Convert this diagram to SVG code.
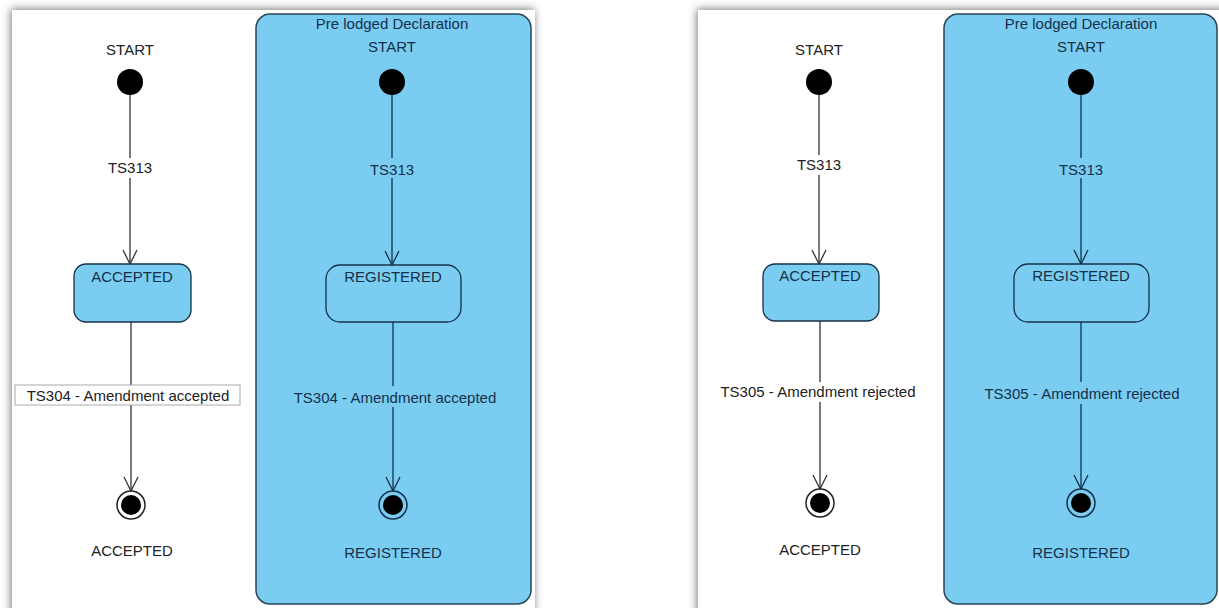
<svg xmlns="http://www.w3.org/2000/svg" width="1219" height="608" viewBox="0 0 1219 608">
<defs>
<filter id="sh" x="-5%" y="-5%" width="110%" height="110%">
<feDropShadow dx="-1" dy="-1" stdDeviation="4" flood-color="#666" flood-opacity="0.9"/>
</filter>
<marker id="ad" viewBox="0 0 16 16" refX="8" refY="15" markerWidth="16" markerHeight="16" markerUnits="userSpaceOnUse">
<path d="M1,1 L8,15 L15,1" fill="none" stroke="#333" stroke-width="1.3"/>
</marker>
<marker id="an" viewBox="0 0 16 16" refX="8" refY="15" markerWidth="16" markerHeight="16" markerUnits="userSpaceOnUse">
<path d="M1,1 L8,15 L15,1" fill="none" stroke="#15304a" stroke-width="1.3"/>
</marker>
</defs>
<style>
text{font-family:"Liberation Sans",Arial,sans-serif;font-size:15px;text-anchor:middle}
.dk{fill:#222}
.nv{fill:#15304a}
.panel{fill:#fff;filter:url(#sh)}
.cont{fill:#7acdf1;stroke:#2a4558;stroke-width:1.5}
.st{fill:#7acdf1;stroke:#15304a;stroke-width:1.3}
.ln{stroke:#333;stroke-width:1.3;fill:none;marker-end:url(#ad)}
.lnn{stroke:#15304a;stroke-width:1.3;fill:none;marker-end:url(#an)}
.bgw{fill:#fff}
.bgb{fill:#7acdf1}
</style>
<rect width="1219" height="608" fill="#fff"/>
<rect class="panel" x="12" y="10" width="523" height="620"/>
<rect class="panel" x="698" y="10" width="540" height="620"/>

<g id="l-container">
<rect class="cont" x="256" y="14" width="275" height="590" rx="14"/>
<text class="nv" x="392" y="29">Pre lodged Declaration</text>
</g>
<g id="r-container">
<rect class="cont" x="944" y="14" width="273" height="590" rx="14"/>
<text class="nv" x="1081" y="29">Pre lodged Declaration</text>
</g>

<g id="connectors">
<line class="ln" x1="130" y1="95" x2="130" y2="264"/>
<line class="ln" x1="131" y1="322" x2="131" y2="491"/>
<line class="lnn" x1="392" y1="95" x2="392" y2="265"/>
<line class="lnn" x1="393" y1="322" x2="393" y2="491"/>
<line class="ln" x1="819" y1="95" x2="819" y2="264"/>
<line class="ln" x1="820" y1="321" x2="820" y2="489"/>
<line class="lnn" x1="1081" y1="95" x2="1081" y2="264"/>
<line class="lnn" x1="1081" y1="322" x2="1081" y2="489"/>
</g>

<g id="left-panel">
<g id="l-start"><text class="dk" x="130" y="55">START</text><circle cx="130" cy="82" r="13" fill="#000"/></g>
<g id="l-ts313"><rect class="bgw" x="104" y="158" width="52" height="20"/><text class="dk" x="130" y="173">TS313</text></g>
<g id="l-accepted"><rect class="st" x="74" y="264" width="117" height="58" rx="12"/><text class="nv" x="132" y="282">ACCEPTED</text></g>
<g id="l-ts304"><rect x="15" y="385" width="225" height="20" fill="#fff" stroke="#aaa" stroke-width="1"/><text class="dk" x="128" y="401">TS304 - Amendment accepted</text></g>
<g id="l-final"><circle cx="131" cy="505" r="14" fill="#fff" stroke="#222" stroke-width="1.5"/><circle cx="131" cy="505" r="10" fill="#000"/><text class="dk" x="132" y="556">ACCEPTED</text></g>
<g id="l-start2"><text class="nv" x="392" y="52">START</text><circle cx="392" cy="82" r="13" fill="#000"/></g>
<g id="l-ts313b"><rect class="bgb" x="366" y="158" width="52" height="20"/><text class="nv" x="392" y="175">TS313</text></g>
<g id="l-registered"><rect class="st" x="326" y="265" width="135" height="57" rx="14"/><text class="nv" x="393" y="282">REGISTERED</text></g>
<g id="l-ts304b"><rect class="bgb" x="290" y="386" width="210" height="21"/><text class="nv" x="395" y="403">TS304 - Amendment accepted</text></g>
<g id="l-final2"><circle cx="393" cy="505" r="14" fill="none" stroke="#15304a" stroke-width="1.5"/><circle cx="393" cy="505" r="10" fill="#000"/><text class="nv" x="393" y="558">REGISTERED</text></g>
</g>

<g id="right-panel">
<g id="r-start"><text class="dk" x="819" y="55">START</text><circle cx="819" cy="82" r="13" fill="#000"/></g>
<g id="r-ts313"><rect class="bgw" x="793" y="155" width="52" height="20"/><text class="dk" x="819" y="170">TS313</text></g>
<g id="r-accepted"><rect class="st" x="763" y="264" width="116" height="57" rx="12"/><text class="nv" x="820" y="281">ACCEPTED</text></g>
<g id="r-ts305"><rect class="bgw" x="712" y="382" width="212" height="20"/><text class="dk" x="818" y="397">TS305 - Amendment rejected</text></g>
<g id="r-final"><circle cx="820" cy="503" r="14" fill="#fff" stroke="#222" stroke-width="1.5"/><circle cx="820" cy="503" r="10" fill="#000"/><text class="dk" x="820" y="555">ACCEPTED</text></g>
<g id="r-start2"><text class="nv" x="1081" y="52">START</text><circle cx="1081" cy="82" r="13" fill="#000"/></g>
<g id="r-ts313b"><rect class="bgb" x="1055" y="158" width="52" height="20"/><text class="nv" x="1081" y="175">TS313</text></g>
<g id="r-registered"><rect class="st" x="1014" y="264" width="135" height="58" rx="14"/><text class="nv" x="1081" y="281">REGISTERED</text></g>
<g id="r-ts305b"><rect class="bgb" x="976" y="382" width="212" height="22"/><text class="nv" x="1082" y="399">TS305 - Amendment rejected</text></g>
<g id="r-final2"><circle cx="1081" cy="503" r="14" fill="none" stroke="#15304a" stroke-width="1.5"/><circle cx="1081" cy="503" r="10" fill="#000"/><text class="nv" x="1081" y="558">REGISTERED</text></g>
</g>
</svg>
